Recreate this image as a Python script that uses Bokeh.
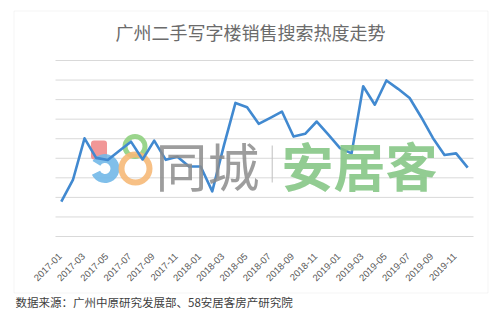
from math import pi
from bokeh.plotting import figure
from bokeh.models import Range1d, Label, BoxAnnotation, ColumnDataSource
from bokeh.core.properties import value
from bokeh.embed import file_html
from bokeh.resources import INLINE

months = ["2017-01", "2017-02", "2017-03", "2017-04", "2017-05", "2017-06",
          "2017-07", "2017-08", "2017-09", "2017-10", "2017-11", "2017-12",
          "2018-01", "2018-02", "2018-03", "2018-04", "2018-05", "2018-06",
          "2018-07", "2018-08", "2018-09", "2018-10", "2018-11", "2018-12",
          "2019-01", "2019-02", "2019-03", "2019-04", "2019-05", "2019-06",
          "2019-07", "2019-08", "2019-09", "2019-10", "2019-11", "2019-12"]
heat = [17.8, 28.9, 50.2, 40.2, 39.1, 43.9, 48.5, 39.4, 49.0, 39.2, 40.8, 35.8,
        35.8, 23.1, 46.5, 68.3, 66.1, 57.6, 60.7, 63.9, 51.1, 52.5, 58.8, 52.1,
        45.2, 42.5, 76.8, 67.4, 79.8, 75.5, 70.8, 61.0, 50.4, 41.7, 42.5, 35.2]
grid_levels = [0, 10, 20, 30, 40, 50, 60, 70, 80, 90]
tick_step = 2

title_text = "广州二手写字楼销售搜索热度走势"
source_text = "数据来源：广州中原研究发展部、58安居客房产研究院"

CJK = "Noto Sans CJK SC"
W, H = 500, 313
# plot area in canvas pixels (gridlines span this box)
PL, PR, PT, PB = 55.0, 473.0, 60.0, 236.0
n = len(months)
cat_w = (PR - PL) / n
x_lo = -0.5 - PL / cat_w
x_hi = x_lo + W / cat_w
unit_px = (PB - PT) / (grid_levels[-1] - grid_levels[0])
y_lo = grid_levels[0] - (H - PB) / unit_px
y_hi = grid_levels[0] + PB / unit_px

p = figure(width=W, height=H,
           x_range=Range1d(x_lo, x_hi), y_range=Range1d(y_lo, y_hi),
           output_backend="svg", toolbar_location=None,
           min_border=0, min_border_left=0, min_border_right=0,
           min_border_top=0, min_border_bottom=0)
p.outline_line_color = None
p.background_fill_color = "white"
p.border_fill_color = "white"
p.xaxis.visible = False
p.yaxis.visible = False
p.xgrid.visible = False
p.ygrid.visible = False

idx = list(range(n))

# chart border
p.add_layout(BoxAnnotation(left=13.5, right=487.5, top=10.5, bottom=292.5,
                           left_units="canvas", right_units="canvas",
                           top_units="canvas", bottom_units="canvas",
                           fill_alpha=0, line_color="#d9d9d9", line_width=1))

# horizontal gridlines across the category span
p.segment(x0=[-0.5] * len(grid_levels), x1=[n - 0.5] * len(grid_levels),
          y0=grid_levels, y1=grid_levels, line_color="#d9d9d9", line_width=1)

# category tick labels (every other month)
tick_idx = idx[0::tick_step]
tick_txt = months[0::tick_step]
p.text(x=tick_idx, y=[grid_levels[0] - 9.4] * len(tick_idx), text=tick_txt,
       angle=pi / 4, text_align="right", text_baseline="middle",
       x_offset=-1, text_font=value("Liberation Sans"), text_font_size="9.5px",
       text_color="#595959")

# watermark
def dx(px):
    return x_lo + px / cat_w

def dy(py):
    return y_hi - py / unit_px

p.rect(x=[dx(98.5)], y=[dy(149.5)], width=16, height=19, width_units="screen",
       height_units="screen", fill_color="#f08c8c", line_color=None,
       border_radius=3, alpha=0.9)
p.annular_wedge(x=[dx(104.5)], y=[dy(168)], inner_radius=5.5, outer_radius=14.5,
                inner_radius_units="screen", outer_radius_units="screen",
                start_angle=-2.7, end_angle=2.6, fill_color="#72b8e8",
                line_color=None, alpha=0.9)
p.scatter(x=[dx(134.5)], y=[dy(146)], marker="circle", size=20,
          fill_alpha=0, line_color="#8fd07f", line_width=5, line_alpha=0.9)
p.scatter(x=[dx(135)], y=[dy(168)], marker="circle", size=28,
          fill_alpha=0, line_color="#f6b978", line_width=6, line_alpha=0.9)
p.add_layout(Label(x=155, y=164, x_units="canvas", y_units="canvas",
                   text="同城", text_font=CJK, text_font_size="52px",
                   text_color="#8c8c8c", text_alpha=0.85,
                   text_baseline="middle", text_align="left"))
p.add_layout(BoxAnnotation(left=271.2, right=272.2, top=145, bottom=182,
                           left_units="canvas", right_units="canvas",
                           top_units="canvas", bottom_units="canvas",
                           fill_color="#bfbfbf", fill_alpha=1, line_color=None))
p.add_layout(Label(x=281, y=164, x_units="canvas", y_units="canvas",
                   text="安居客", text_font=CJK, text_font_size="52px",
                   text_font_style="bold",
                   text_color="#86c786", text_alpha=0.9,
                   text_baseline="middle", text_align="left"))

src = ColumnDataSource(dict(x=idx, month=months, heat=heat))
p.line(x="x", y="heat", source=src, line_color="#4189d0", line_width=2.6,
       line_join="round")

p.add_layout(Label(x=250, y=31, x_units="canvas", y_units="canvas",
                   text=title_text, text_font=CJK, text_font_size="18px",
                   text_color="#6b6b6b", text_align="center",
                   text_baseline="middle"))
p.add_layout(Label(x=15, y=301, x_units="canvas", y_units="canvas",
                   text=source_text, text_font=CJK, text_font_size="11.5px",
                   text_color="#404040", text_align="left",
                   text_baseline="middle"))

open("out.html", "w").write(file_html(p, INLINE))
